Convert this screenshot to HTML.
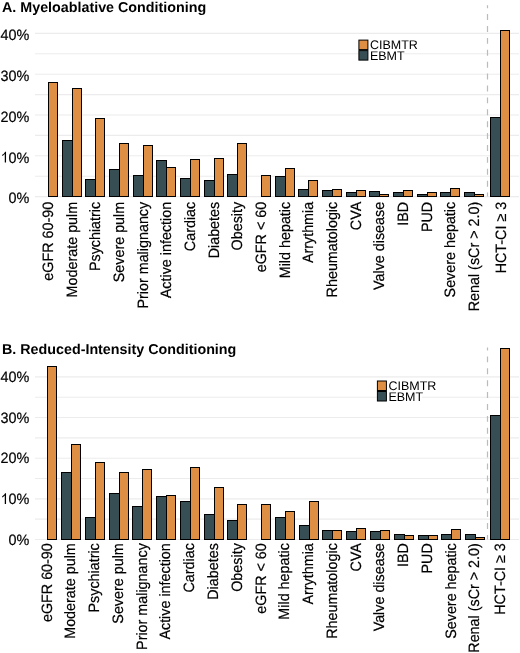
<!DOCTYPE html>
<html><head><meta charset="utf-8"><style>
html,body{margin:0;padding:0;background:#fff;}
svg{display:block;will-change:transform;}
text{font-family:"Liberation Sans",sans-serif;fill:#000;text-rendering:geometricPrecision;}
.t{font-weight:bold;font-size:14.3px;}
.yl{font-size:15.0px;stroke:#000;stroke-width:0.2px;}
.xl{font-size:15.0px;stroke:#000;stroke-width:0.2px;}
.lg{font-size:12.5px;}
.g{stroke:#ECECEE;stroke-width:1.1;}
.d{stroke:#BBBBBB;stroke-width:1.2;stroke-dasharray:5.95 5.95;stroke-dashoffset:3;}
.b{stroke:#000;stroke-width:1;}
</style></head><body>
<svg width="520" height="653" viewBox="0 0 520 653">
<rect width="520" height="653" fill="#fff"/>
<line x1="35" x2="519" y1="196.60" y2="196.60" class="g"/>
<line x1="35" x2="519" y1="176.20" y2="176.20" class="g"/>
<line x1="35" x2="519" y1="155.80" y2="155.80" class="g"/>
<line x1="35" x2="519" y1="135.40" y2="135.40" class="g"/>
<line x1="35" x2="519" y1="115.00" y2="115.00" class="g"/>
<line x1="35" x2="519" y1="94.60" y2="94.60" class="g"/>
<line x1="35" x2="519" y1="74.20" y2="74.20" class="g"/>
<line x1="35" x2="519" y1="53.80" y2="53.80" class="g"/>
<line x1="35" x2="519" y1="33.40" y2="33.40" class="g"/>
<text transform="translate(29.3,203.30) scale(0.9600000000000001,1)" class="yl" text-anchor="end">0%</text>
<text transform="translate(29.3,162.50) scale(0.9600000000000001,1)" class="yl" text-anchor="end">0%</text>
<path transform="translate(0.49,162.50) scale(14.4,-15.0)" d="M0.385 0H0.297V0.560C0.270 0.532 0.240 0.506 0.205 0.482C0.170 0.458 0.140 0.441 0.118 0.430V0.512C0.168 0.538 0.210 0.570 0.245 0.607C0.280 0.644 0.305 0.680 0.322 0.716H0.385Z"/>
<text transform="translate(29.3,121.70) scale(0.9600000000000001,1)" class="yl" text-anchor="end">20%</text>
<text transform="translate(29.3,80.90) scale(0.9600000000000001,1)" class="yl" text-anchor="end">30%</text>
<text transform="translate(29.3,40.10) scale(0.9600000000000001,1)" class="yl" text-anchor="end">40%</text>
<line x1="487.5" x2="487.5" y1="5.2" y2="196.6" class="d"/>
<rect x="48.5" y="82.5" width="9" height="114" fill="#DF8F44" class="b"/>
<rect x="62.5" y="140.5" width="10" height="56" fill="#374E55" class="b"/>
<rect x="72.5" y="88.5" width="9" height="108" fill="#DF8F44" class="b"/>
<rect x="85.5" y="179.5" width="10" height="17" fill="#374E55" class="b"/>
<rect x="95.5" y="118.5" width="9" height="78" fill="#DF8F44" class="b"/>
<rect x="109.5" y="169.5" width="10" height="27" fill="#374E55" class="b"/>
<rect x="119.5" y="143.5" width="9" height="53" fill="#DF8F44" class="b"/>
<rect x="133.5" y="175.5" width="10" height="21" fill="#374E55" class="b"/>
<rect x="143.5" y="145.5" width="9" height="51" fill="#DF8F44" class="b"/>
<rect x="156.5" y="160.5" width="10" height="36" fill="#374E55" class="b"/>
<rect x="166.5" y="167.5" width="9" height="29" fill="#DF8F44" class="b"/>
<rect x="180.5" y="178.5" width="10" height="18" fill="#374E55" class="b"/>
<rect x="190.5" y="159.5" width="9" height="37" fill="#DF8F44" class="b"/>
<rect x="204.5" y="180.5" width="10" height="16" fill="#374E55" class="b"/>
<rect x="214.5" y="158.5" width="9" height="38" fill="#DF8F44" class="b"/>
<rect x="227.5" y="174.5" width="10" height="22" fill="#374E55" class="b"/>
<rect x="237.5" y="143.5" width="9" height="53" fill="#DF8F44" class="b"/>
<rect x="261.5" y="175.5" width="9" height="21" fill="#DF8F44" class="b"/>
<rect x="275.5" y="176.5" width="10" height="20" fill="#374E55" class="b"/>
<rect x="285.5" y="168.5" width="9" height="28" fill="#DF8F44" class="b"/>
<rect x="298.5" y="189.5" width="10" height="7" fill="#374E55" class="b"/>
<rect x="308.5" y="180.5" width="9" height="16" fill="#DF8F44" class="b"/>
<rect x="322.5" y="190.5" width="10" height="6" fill="#374E55" class="b"/>
<rect x="332.5" y="189.5" width="9" height="7" fill="#DF8F44" class="b"/>
<rect x="346.5" y="192.5" width="10" height="4" fill="#374E55" class="b"/>
<rect x="356.5" y="190.5" width="9" height="6" fill="#DF8F44" class="b"/>
<rect x="369.5" y="191.5" width="10" height="5" fill="#374E55" class="b"/>
<rect x="379.5" y="194.5" width="9" height="2" fill="#DF8F44" class="b"/>
<rect x="393.5" y="192.5" width="10" height="4" fill="#374E55" class="b"/>
<rect x="403.5" y="190.5" width="9" height="6" fill="#DF8F44" class="b"/>
<rect x="417.5" y="194.5" width="10" height="2" fill="#374E55" class="b"/>
<rect x="427.5" y="192.5" width="9" height="4" fill="#DF8F44" class="b"/>
<rect x="440.5" y="192.5" width="10" height="4" fill="#374E55" class="b"/>
<rect x="450.5" y="188.5" width="9" height="8" fill="#DF8F44" class="b"/>
<rect x="464.5" y="192.5" width="10" height="4" fill="#374E55" class="b"/>
<rect x="474.5" y="194.5" width="9" height="2" fill="#DF8F44" class="b"/>
<rect x="490.5" y="117.5" width="10" height="79" fill="#374E55" class="b"/>
<rect x="500.5" y="30.5" width="9" height="166" fill="#DF8F44" class="b"/>
<text class="xl" transform="translate(52.87,201.80) rotate(-90) scale(0.9553333333333334,1)" text-anchor="end">eGFR 60-90</text>
<text class="xl" transform="translate(76.54,201.80) rotate(-90) scale(0.9553333333333334,1)" text-anchor="end">Moderate pulm</text>
<text class="xl" transform="translate(100.20,201.80) rotate(-90) scale(0.9553333333333334,1)" text-anchor="end">Psychiatric</text>
<text class="xl" transform="translate(123.87,201.80) rotate(-90) scale(0.9553333333333334,1)" text-anchor="end">Severe pulm</text>
<text class="xl" transform="translate(147.54,201.80) rotate(-90) scale(0.9553333333333334,1)" text-anchor="end">Prior malignancy</text>
<text class="xl" transform="translate(171.21,201.80) rotate(-90) scale(0.9553333333333334,1)" text-anchor="end">Active infection</text>
<text class="xl" transform="translate(194.87,201.80) rotate(-90) scale(0.9553333333333334,1)" text-anchor="end">Cardiac</text>
<text class="xl" transform="translate(218.54,201.80) rotate(-90) scale(0.9553333333333334,1)" text-anchor="end">Diabetes</text>
<text class="xl" transform="translate(242.21,201.80) rotate(-90) scale(0.9553333333333334,1)" text-anchor="end">Obesity</text>
<text class="xl" transform="translate(265.87,201.80) rotate(-90) scale(0.9553333333333334,1)" text-anchor="end">eGFR &lt; 60</text>
<text class="xl" transform="translate(289.54,201.80) rotate(-90) scale(0.9553333333333334,1)" text-anchor="end">Mild hepatic</text>
<text class="xl" transform="translate(313.21,201.80) rotate(-90) scale(0.9553333333333334,1)" text-anchor="end">Arrythmia</text>
<text class="xl" transform="translate(336.88,201.80) rotate(-90) scale(0.9553333333333334,1)" text-anchor="end">Rheumatologic</text>
<text class="xl" transform="translate(360.54,201.80) rotate(-90) scale(0.9553333333333334,1)" text-anchor="end">CVA</text>
<text class="xl" transform="translate(384.21,201.80) rotate(-90) scale(0.9553333333333334,1)" text-anchor="end">Valve disease</text>
<text class="xl" transform="translate(407.88,201.80) rotate(-90) scale(0.9553333333333334,1)" text-anchor="end">IBD</text>
<text class="xl" transform="translate(431.54,201.80) rotate(-90) scale(0.9553333333333334,1)" text-anchor="end">PUD</text>
<text class="xl" transform="translate(455.21,201.80) rotate(-90) scale(0.9553333333333334,1)" text-anchor="end">Severe hepatic</text>
<text class="xl" transform="translate(478.88,201.80) rotate(-90) scale(0.9553333333333334,1)" text-anchor="end">Renal (sCr &gt; 2.0)</text>
<text class="xl" transform="translate(505.70,201.80) rotate(-90) scale(0.9553333333333334,1)" text-anchor="end">HCT-CI &#8805; 3</text>
<text x="2" y="11.80" class="t">A. Myeloablative Conditioning</text>
<rect x="368.4" y="49.8" width="35" height="10.4" fill="#fff"/>
<rect x="358.9" y="40.1" width="9" height="9.5" fill="#DF8F44" class="b"/>
<rect x="358.9" y="50.6" width="9" height="9.5" fill="#374E55" class="b"/>
<text x="369.9" y="48.6" class="lg">CIBMTR</text>
<text x="369.9" y="59.8" class="lg">EBMT</text>
<line x1="35" x2="519" y1="539.50" y2="539.50" class="g"/>
<line x1="35" x2="519" y1="519.17" y2="519.17" class="g"/>
<line x1="35" x2="519" y1="498.85" y2="498.85" class="g"/>
<line x1="35" x2="519" y1="478.52" y2="478.52" class="g"/>
<line x1="35" x2="519" y1="458.20" y2="458.20" class="g"/>
<line x1="35" x2="519" y1="437.88" y2="437.88" class="g"/>
<line x1="35" x2="519" y1="417.55" y2="417.55" class="g"/>
<line x1="35" x2="519" y1="397.23" y2="397.23" class="g"/>
<line x1="35" x2="519" y1="376.90" y2="376.90" class="g"/>
<text transform="translate(29.3,544.60) scale(0.9600000000000001,1)" class="yl" text-anchor="end">0%</text>
<text transform="translate(29.3,503.95) scale(0.9600000000000001,1)" class="yl" text-anchor="end">0%</text>
<path transform="translate(0.49,503.95) scale(14.4,-15.0)" d="M0.385 0H0.297V0.560C0.270 0.532 0.240 0.506 0.205 0.482C0.170 0.458 0.140 0.441 0.118 0.430V0.512C0.168 0.538 0.210 0.570 0.245 0.607C0.280 0.644 0.305 0.680 0.322 0.716H0.385Z"/>
<text transform="translate(29.3,463.30) scale(0.9600000000000001,1)" class="yl" text-anchor="end">20%</text>
<text transform="translate(29.3,422.65) scale(0.9600000000000001,1)" class="yl" text-anchor="end">30%</text>
<text transform="translate(29.3,382.00) scale(0.9600000000000001,1)" class="yl" text-anchor="end">40%</text>
<line x1="487.5" x2="487.5" y1="347.5" y2="539.5" class="d"/>
<rect x="47.5" y="366.5" width="9" height="173" fill="#DF8F44" class="b"/>
<rect x="61.5" y="472.5" width="10" height="67" fill="#374E55" class="b"/>
<rect x="71.5" y="444.5" width="9" height="95" fill="#DF8F44" class="b"/>
<rect x="85.5" y="517.5" width="10" height="22" fill="#374E55" class="b"/>
<rect x="95.5" y="462.5" width="9" height="77" fill="#DF8F44" class="b"/>
<rect x="109.5" y="493.5" width="10" height="46" fill="#374E55" class="b"/>
<rect x="119.5" y="472.5" width="9" height="67" fill="#DF8F44" class="b"/>
<rect x="132.5" y="506.5" width="10" height="33" fill="#374E55" class="b"/>
<rect x="142.5" y="469.5" width="9" height="70" fill="#DF8F44" class="b"/>
<rect x="156.5" y="496.5" width="10" height="43" fill="#374E55" class="b"/>
<rect x="166.5" y="495.5" width="9" height="44" fill="#DF8F44" class="b"/>
<rect x="180.5" y="501.5" width="10" height="38" fill="#374E55" class="b"/>
<rect x="190.5" y="467.5" width="9" height="72" fill="#DF8F44" class="b"/>
<rect x="204.5" y="514.5" width="10" height="25" fill="#374E55" class="b"/>
<rect x="214.5" y="487.5" width="9" height="52" fill="#DF8F44" class="b"/>
<rect x="227.5" y="520.5" width="10" height="19" fill="#374E55" class="b"/>
<rect x="237.5" y="504.5" width="9" height="35" fill="#DF8F44" class="b"/>
<rect x="261.5" y="504.5" width="9" height="35" fill="#DF8F44" class="b"/>
<rect x="275.5" y="517.5" width="10" height="22" fill="#374E55" class="b"/>
<rect x="285.5" y="511.5" width="9" height="28" fill="#DF8F44" class="b"/>
<rect x="299.5" y="525.5" width="10" height="14" fill="#374E55" class="b"/>
<rect x="309.5" y="501.5" width="9" height="38" fill="#DF8F44" class="b"/>
<rect x="322.5" y="530.5" width="10" height="9" fill="#374E55" class="b"/>
<rect x="332.5" y="530.5" width="9" height="9" fill="#DF8F44" class="b"/>
<rect x="346.5" y="531.5" width="10" height="8" fill="#374E55" class="b"/>
<rect x="356.5" y="528.5" width="9" height="11" fill="#DF8F44" class="b"/>
<rect x="370.5" y="531.5" width="10" height="8" fill="#374E55" class="b"/>
<rect x="380.5" y="530.5" width="9" height="9" fill="#DF8F44" class="b"/>
<rect x="394.5" y="534.5" width="10" height="5" fill="#374E55" class="b"/>
<rect x="404.5" y="535.5" width="9" height="4" fill="#DF8F44" class="b"/>
<rect x="418.5" y="535.5" width="10" height="4" fill="#374E55" class="b"/>
<rect x="428.5" y="535.5" width="9" height="4" fill="#DF8F44" class="b"/>
<rect x="441.5" y="534.5" width="10" height="5" fill="#374E55" class="b"/>
<rect x="451.5" y="529.5" width="9" height="10" fill="#DF8F44" class="b"/>
<rect x="465.5" y="534.5" width="10" height="5" fill="#374E55" class="b"/>
<rect x="475.5" y="537.5" width="9" height="2" fill="#DF8F44" class="b"/>
<rect x="490.5" y="415.5" width="10" height="124" fill="#374E55" class="b"/>
<rect x="500.5" y="348.5" width="9" height="191" fill="#DF8F44" class="b"/>
<text class="xl" transform="translate(51.68,543.20) rotate(-90) scale(0.9553333333333334,1)" text-anchor="end">eGFR 60-90</text>
<text class="xl" transform="translate(75.44,543.20) rotate(-90) scale(0.9553333333333334,1)" text-anchor="end">Moderate pulm</text>
<text class="xl" transform="translate(99.21,543.20) rotate(-90) scale(0.9553333333333334,1)" text-anchor="end">Psychiatric</text>
<text class="xl" transform="translate(122.97,543.20) rotate(-90) scale(0.9553333333333334,1)" text-anchor="end">Severe pulm</text>
<text class="xl" transform="translate(146.73,543.20) rotate(-90) scale(0.9553333333333334,1)" text-anchor="end">Prior malignancy</text>
<text class="xl" transform="translate(170.49,543.20) rotate(-90) scale(0.9553333333333334,1)" text-anchor="end">Active infection</text>
<text class="xl" transform="translate(194.25,543.20) rotate(-90) scale(0.9553333333333334,1)" text-anchor="end">Cardiac</text>
<text class="xl" transform="translate(218.02,543.20) rotate(-90) scale(0.9553333333333334,1)" text-anchor="end">Diabetes</text>
<text class="xl" transform="translate(241.78,543.20) rotate(-90) scale(0.9553333333333334,1)" text-anchor="end">Obesity</text>
<text class="xl" transform="translate(265.54,543.20) rotate(-90) scale(0.9553333333333334,1)" text-anchor="end">eGFR &lt; 60</text>
<text class="xl" transform="translate(289.30,543.20) rotate(-90) scale(0.9553333333333334,1)" text-anchor="end">Mild hepatic</text>
<text class="xl" transform="translate(313.07,543.20) rotate(-90) scale(0.9553333333333334,1)" text-anchor="end">Arrythmia</text>
<text class="xl" transform="translate(336.83,543.20) rotate(-90) scale(0.9553333333333334,1)" text-anchor="end">Rheumatologic</text>
<text class="xl" transform="translate(360.59,543.20) rotate(-90) scale(0.9553333333333334,1)" text-anchor="end">CVA</text>
<text class="xl" transform="translate(384.35,543.20) rotate(-90) scale(0.9553333333333334,1)" text-anchor="end">Valve disease</text>
<text class="xl" transform="translate(408.11,543.20) rotate(-90) scale(0.9553333333333334,1)" text-anchor="end">IBD</text>
<text class="xl" transform="translate(431.88,543.20) rotate(-90) scale(0.9553333333333334,1)" text-anchor="end">PUD</text>
<text class="xl" transform="translate(455.64,543.20) rotate(-90) scale(0.9553333333333334,1)" text-anchor="end">Severe hepatic</text>
<text class="xl" transform="translate(479.40,543.20) rotate(-90) scale(0.9553333333333334,1)" text-anchor="end">Renal (sCr &gt; 2.0)</text>
<text class="xl" transform="translate(504.75,543.20) rotate(-90) scale(0.9553333333333334,1)" text-anchor="end">HCT-CI &#8805; 3</text>
<text x="2" y="354.30" class="t">B. Reduced-Intensity Conditioning</text>
<rect x="386.9" y="390.7" width="35" height="10.4" fill="#fff"/>
<rect x="377.4" y="381.0" width="9" height="9.5" fill="#DF8F44" class="b"/>
<rect x="377.4" y="391.5" width="9" height="9.5" fill="#374E55" class="b"/>
<text x="388.4" y="389.5" class="lg">CIBMTR</text>
<text x="388.4" y="400.7" class="lg">EBMT</text>
</svg>
</body></html>
